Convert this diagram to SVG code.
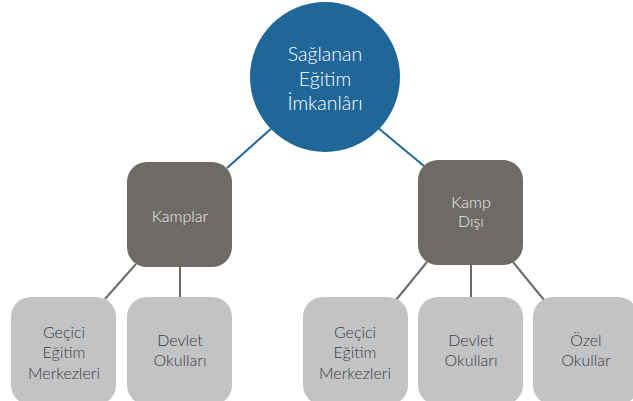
<svg xmlns="http://www.w3.org/2000/svg" width="633" height="401" viewBox="0 0 633 401">
<style>
text{font-family:Lato,"Open Sans","Liberation Sans",sans-serif;text-anchor:middle;font-weight:300}
.top{fill:#1f6699}
.mid{fill:#6e6b66}
.leaf{fill:#c2c3c5}
.tw{fill:#ffffff;font-size:19.5px}
.tm{fill:#ececec;font-size:16px}
.tl{fill:#3c3c3c;font-size:16px}
.cb{stroke:#1f6699;stroke-width:2}
.cg{stroke:#6e6b66;stroke-width:2}
</style>
<rect width="633" height="401" fill="#ffffff"/>
<g id="connectors">
<line class="cb" x1="273" y1="127" x2="227" y2="168"/>
<line class="cb" x1="377" y1="127" x2="424" y2="166"/>
<line class="cg" x1="136" y1="264" x2="105" y2="299"/>
<line class="cg" x1="180" y1="266" x2="180" y2="298"/>
<line class="cg" x1="427" y1="262" x2="396" y2="300"/>
<line class="cg" x1="471" y1="264" x2="471" y2="298"/>
<line class="cg" x1="513" y1="262" x2="544" y2="300"/>
</g>
<g id="root">
<circle class="top" cx="325" cy="77" r="75"/>
<text class="tw" x="325" y="61">Sağlanan</text>
<text class="tw" x="325" y="86">Eğitim</text>
<text class="tw" x="325" y="110">İmkanlârı</text>
</g>
<g id="kamplar">
<rect class="mid" x="127" y="162" width="105" height="105" rx="20"/>
<text class="tm" x="180" y="222">Kamplar</text>
</g>
<g id="kampdisi">
<rect class="mid" x="418" y="160" width="105" height="105" rx="20"/>
<text class="tm" x="471" y="208">Kamp</text>
<text class="tm" x="471" y="227">Dışı</text>
</g>
<g id="k-gecici">
<rect class="leaf" x="11" y="297" width="105" height="108" rx="20"/>
<text class="tl" x="64" y="338">Geçici</text>
<text class="tl" x="64" y="358">Eğitim</text>
<text class="tl" x="64" y="379">Merkezleri</text>
</g>
<g id="k-devlet">
<rect class="leaf" x="127" y="297" width="105" height="108" rx="20"/>
<text class="tl" x="180" y="346">Devlet</text>
<text class="tl" x="180" y="366">Okulları</text>
</g>
<g id="d-gecici">
<rect class="leaf" x="303" y="297" width="105" height="108" rx="20"/>
<text class="tl" x="355" y="338">Geçici</text>
<text class="tl" x="355" y="358">Eğitim</text>
<text class="tl" x="355" y="379">Merkezleri</text>
</g>
<g id="d-devlet">
<rect class="leaf" x="418" y="297" width="105" height="108" rx="20"/>
<text class="tl" x="471" y="346">Devlet</text>
<text class="tl" x="471" y="366">Okulları</text>
</g>
<g id="d-ozel">
<rect class="leaf" x="533" y="297" width="105" height="108" rx="20"/>
<text class="tl" x="586" y="346">Özel</text>
<text class="tl" x="586" y="366">Okullar</text>
</g>
</svg>
